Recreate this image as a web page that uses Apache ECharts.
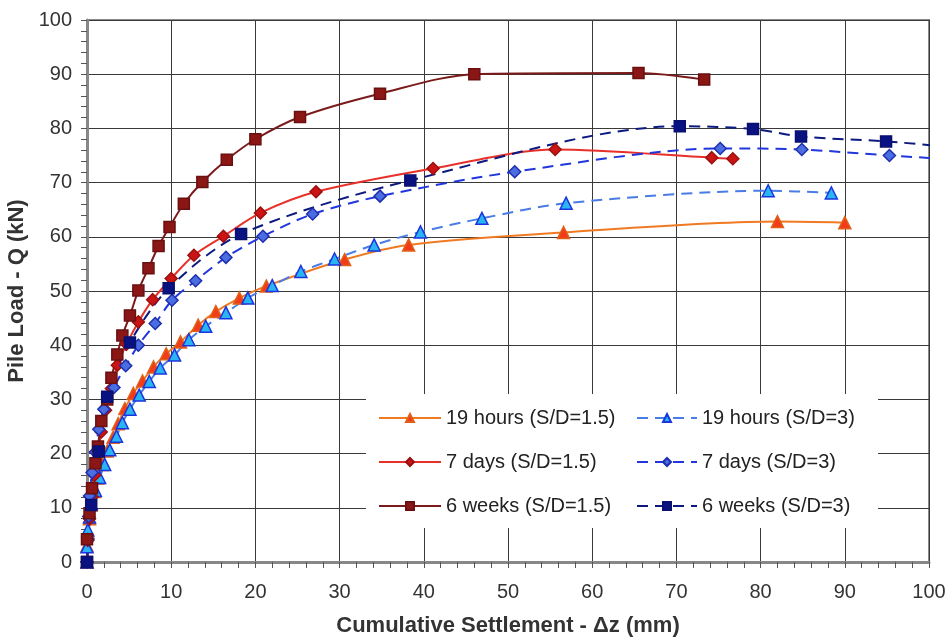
<!DOCTYPE html>
<html>
<head>
<meta charset="utf-8">
<script src="https://cdn.jsdelivr.net/npm/echarts@6/dist/echarts.min.js"></script>
<style>
html,body{margin:0;padding:0;background:#fff;}
#chart{width:949px;height:639px;}
</style>
</head>
<body>
<div id="chart"></div>
<script>
// Series names
var seriesNames = ['19 hours (S/D=1.5)', '19 hours (S/D=3)', '7 days (S/D=1.5)', '7 days (S/D=3)', '6 weeks (S/D=1.5)', '6 weeks (S/D=3)'];

// 19 hours (S/D=1.5)
var h19a_x = [0, 0, 0.1, 0.3, 0.5, 0.9, 1.3, 1.8, 2.4, 3.1, 3.7, 4.5, 5.5, 6.6, 7.9, 9.4, 11.1, 13.2, 15.3, 18.1, 21.3, 30.6, 38.2, 56.6, 82.0, 90.0];
var h19a_y = [0, 3, 5.5, 8, 10.5, 13, 15.5, 18, 20.5, 23, 25.5, 28.3, 31.1, 33.4, 36.0, 38.4, 40.6, 43.7, 46.2, 48.7, 50.9, 55.8, 58.5, 60.8, 62.8, 62.6];

// 19 hours (S/D=3)
var h19b_x = [0, 0, 0.1, 0.3, 0.5, 1.0, 1.5, 2.1, 2.7, 3.5, 4.2, 5.1, 6.2, 7.4, 8.7, 10.4, 12.1, 14.1, 16.5, 19.1, 22.0, 25.4, 29.4, 34.1, 39.6, 46.9, 56.9, 80.9, 88.4];
var h19b_y = [0, 2.8, 5.9, 8.3, 10.8, 13.2, 15.6, 18.0, 20.7, 23.2, 25.7, 28.2, 30.8, 33.3, 35.8, 38.2, 41.0, 43.5, 46.0, 48.7, 51.0, 53.6, 55.9, 58.5, 60.9, 63.4, 66.2, 68.5, 68.1];

// 7 days (S/D=1.5)
var d7a_x = [0, 0.1, 0.3, 0.6, 0.9, 1.3, 1.7, 2.2, 2.9, 3.6, 4.7, 6.1, 7.8, 10.0, 12.7, 16.2, 20.6, 27.2, 41.1, 55.6, 74.2, 76.7];
var d7a_y = [0, 4, 8, 12, 16, 20, 24, 28, 32, 36.3, 40.2, 44.3, 48.4, 52.3, 56.6, 60.1, 64.4, 68.3, 72.6, 76.1, 74.6, 74.4];

// 7 days (S/D=3)
var d7b_x = [0, 0.1, 0.2, 0.3, 0.6, 1.0, 1.4, 2.0, 3.2, 4.6, 6.1, 8.1, 10.1, 12.9, 16.5, 20.9, 26.8, 34.8, 50.8, 75.2, 84.9, 95.3, 106];
var d7b_y = [0, 4.2, 8.4, 12.2, 16.5, 20.3, 24.5, 28.2, 32.2, 36.2, 40.0, 44.0, 48.3, 51.9, 56.2, 60.1, 64.2, 67.5, 72.0, 76.3, 76.1, 75.0, 74.0];

// 6 weeks (S/D=1.5)
var w6a_x = [0, 0, 0.3, 0.6, 1.0, 1.3, 1.7, 2.4, 2.9, 3.6, 4.2, 5.1, 6.1, 7.3, 8.5, 9.8, 11.5, 13.7, 16.6, 20.0, 25.3, 34.8, 46.0, 65.5, 73.3];
var w6a_y = [0, 4.2, 9.0, 13.6, 18.2, 21.3, 26.0, 30.0, 34.0, 38.3, 41.8, 45.5, 50.1, 54.2, 58.3, 61.8, 66.1, 70.1, 74.2, 78.0, 82.1, 86.4, 90.0, 90.2, 89.0];

// 6 weeks (S/D=3)
var w6b_x = [0, 0.5, 1.4, 2.4, 5.1, 9.7, 18.3, 38.4, 70.4, 79.1, 84.8, 94.9, 105];
var w6b_y = [0, 10.5, 20.4, 30.5, 40.5, 50.5, 60.5, 70.4, 80.4, 79.9, 78.5, 77.6, 76.2];

function pairs(xs, ys) { return xs.map(function (x, i) { return [x, ys[i]]; }); }

var chart = echarts.init(document.getElementById('chart'), null, {renderer: 'canvas'});

var font = 'Liberation Sans, Arial, sans-serif';

function mk(name, xs, ys, lineColor, dashed, symbol, fill, border, size) {
  return {
    name: name,
    type: 'line',
    data: pairs(xs, ys),
    smooth: 0.3,
    clip: true,
    symbol: symbol,
    symbolSize: size,
    showAllSymbol: true,
    lineStyle: {color: lineColor, width: 2, type: dashed ? [11, 7] : 'solid'},
    itemStyle: {color: fill, borderColor: border, borderWidth: 1.5},
    emphasis: {disabled: true},
    animation: false
  };
}

var option = {
  backgroundColor: '#ffffff',
  animation: false,
  grid: {left: 87, right: 20, top: 20, bottom: 77, containLabel: false, outerBoundsMode: 'none',
         show: true, borderColor: '#8a8a8a', borderWidth: 2, backgroundColor: 'transparent'},
  xAxis: {
    type: 'value', min: 0, max: 100, interval: 10,
    name: 'Cumulative Settlement - \u0394z (mm)',
    nameLocation: 'middle', nameGap: 53,
    nameTextStyle: {fontFamily: font, fontSize: 22, fontWeight: 'bold', color: '#333'},
    axisLine: {show: true, lineStyle: {color: '#888', width: 3}},
    axisTick: {show: true, length: 6, lineStyle: {color: '#555', width: 1}},
    minorTick: {show: true, splitNumber: 5, length: 6, lineStyle: {color: '#555', width: 1}},
    axisLabel: {fontFamily: font, fontSize: 20, color: '#333', margin: 20},
    splitLine: {show: true, lineStyle: {color: '#3a3a3a', width: 1}}
  },
  yAxis: {
    type: 'value', min: 0, max: 100, interval: 10,
    name: 'Pile Load - Q (kN)',
    nameLocation: 'middle', nameGap: 51, nameRotate: 90,
    nameTextStyle: {fontFamily: font, fontSize: 22, fontWeight: 'bold', color: '#333'},
    axisLine: {show: true, lineStyle: {color: '#888', width: 3}},
    axisTick: {show: true, length: 6, lineStyle: {color: '#555', width: 1}},
    minorTick: {show: true, splitNumber: 5, length: 6, lineStyle: {color: '#555', width: 1}},
    axisLabel: {fontFamily: font, fontSize: 20, color: '#333', margin: 15},
    splitLine: {show: true, lineStyle: {color: '#3a3a3a', width: 1}}
  },
  graphic: [{
    type: 'rect', z: 3, silent: true,
    shape: {x: 366, y: 394, width: 512, height: 134},
    style: {fill: '#ffffff'}
  }],
  legend: [
    {
      orient: 'vertical', left: 378, top: 408, z: 5,
      data: [seriesNames[0], seriesNames[2], seriesNames[4]],
      itemWidth: 62, itemHeight: 10, itemGap: 24, padding: 0,
      textStyle: {fontFamily: font, fontSize: 20, color: '#222', lineHeight: 20}
    },
    {
      orient: 'vertical', left: 636, top: 408, z: 5,
      data: [seriesNames[1], seriesNames[3], seriesNames[5]],
      itemWidth: 60, itemHeight: 10, itemGap: 24, padding: 0,
      textStyle: {fontFamily: font, fontSize: 20, color: '#222', lineHeight: 20}
    }
  ],
  series: [
    mk(seriesNames[0], h19a_x, h19a_y, '#f07a22', false, 'triangle', '#f23c18', '#e0601a', 12),
    mk(seriesNames[1], h19b_x, h19b_y, '#4a7ce6', true, 'triangle', '#2ab4f2', '#1a35e0', 12),
    mk(seriesNames[2], d7a_x, d7a_y, '#e8302a', false, 'diamond', '#cc1414', '#9a1010', 12),
    mk(seriesNames[3], d7b_x, d7b_y, '#2236dd', true, 'diamond', '#4a6ee0', '#1e2eb0', 12),
    mk(seriesNames[4], w6a_x, w6a_y, '#7a1a1a', false, 'rect', '#8b1616', '#6a1010', 11),
    mk(seriesNames[5], w6b_x, w6b_y, '#0c1a80', true, 'rect', '#0a1282', '#081070', 11)
  ]
};

chart.setOption(option);
</script>
</body>
</html>
